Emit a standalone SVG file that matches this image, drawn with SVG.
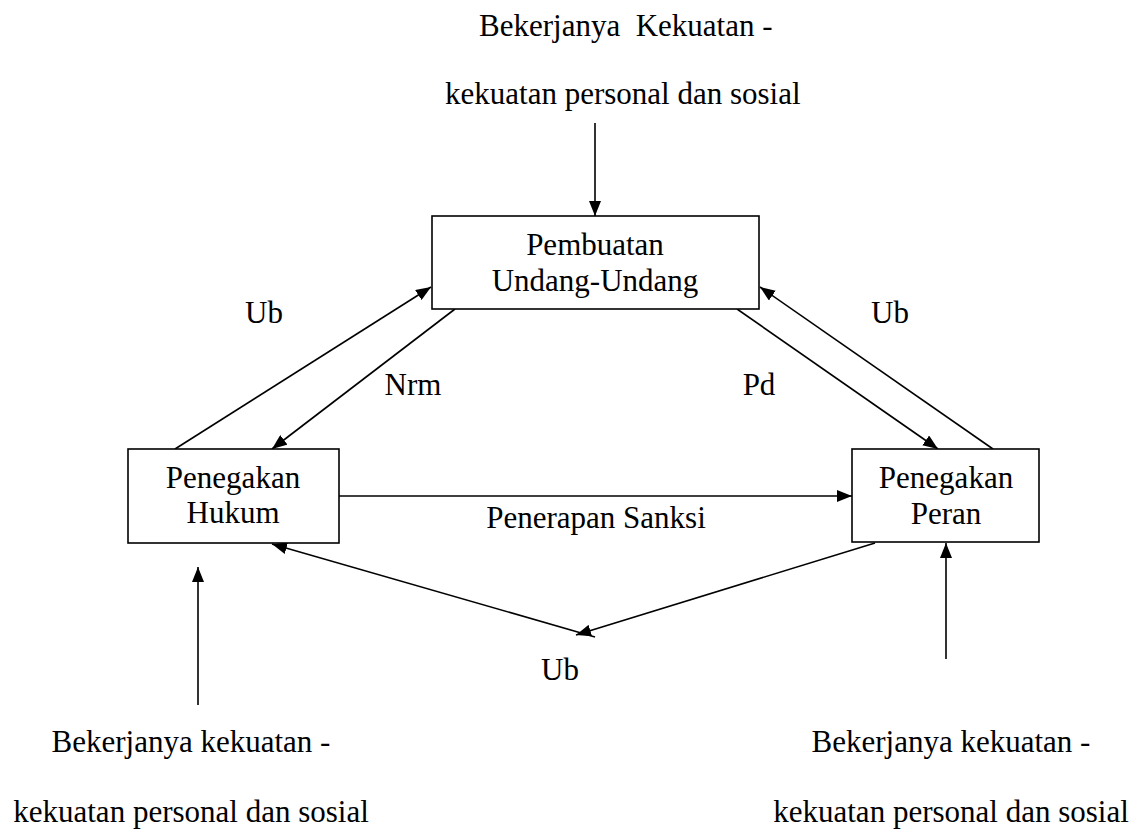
<svg xmlns="http://www.w3.org/2000/svg" width="1134" height="830" viewBox="0 0 1134 830">
<style>
text{font-family:"Liberation Serif","Times New Roman",serif;font-size:31px;fill:#000}
.c{text-anchor:middle}
.pre{white-space:pre}
.box{fill:#fff;stroke:#000;stroke-width:1.6}
.ln{stroke:#000;stroke-width:1.6;fill:none;marker-end:url(#ah)}
</style>
<defs>
<marker id="ah" markerUnits="userSpaceOnUse" markerWidth="16" markerHeight="12" refX="15" refY="6" orient="auto">
<path d="M0,0 L15,6 L0,12 z" fill="#000"/>
</marker>
</defs>
<rect width="1134" height="830" fill="#fff"/>
<g id="connectors">
<line class="ln" x1="595" y1="123" x2="595" y2="216"/>
<line class="ln" x1="175" y1="449" x2="431" y2="287"/>
<line class="ln" x1="455" y1="309" x2="272" y2="449"/>
<line class="ln" x1="737" y1="309" x2="938" y2="449"/>
<line class="ln" x1="993" y1="449" x2="760" y2="287"/>
<line class="ln" x1="339" y1="496" x2="852" y2="496"/>
<line class="ln" x1="875" y1="543" x2="576" y2="635"/>
<line class="ln" x1="595" y1="637" x2="272" y2="544"/>
<line class="ln" x1="198" y1="705" x2="198" y2="567"/>
<line class="ln" x1="946" y1="659" x2="946" y2="543"/>
</g>
<g id="labels">
<text class="pre" x="479" y="36" xml:space="preserve">Bekerjanya  Kekuatan -</text>
<text x="445" y="104">kekuatan personal dan sosial</text>
<text class="c" x="264" y="323">Ub</text>
<text class="c" x="413" y="395">Nrm</text>
<text class="c" x="759" y="395">Pd</text>
<text class="c" x="890" y="323">Ub</text>
<text class="c" x="596" y="528">Penerapan Sanksi</text>
<text class="c" x="560" y="680">Ub</text>
<text class="c" x="191" y="752">Bekerjanya kekuatan -</text>
<text class="c" x="191" y="822">kekuatan personal dan sosial</text>
<text class="c" x="951" y="752">Bekerjanya kekuatan -</text>
<text class="c" x="951" y="822">kekuatan personal dan sosial</text>
</g>
<g id="pembuatan">
<rect class="box" x="432" y="216" width="327" height="93"/>
<text class="c" x="595" y="255">Pembuatan</text>
<text class="c" x="595" y="291">Undang-Undang</text>
</g>
<g id="hukum">
<rect class="box" x="128" y="449" width="211" height="94"/>
<text class="c" x="233" y="488">Penegakan</text>
<text class="c" x="233" y="523">Hukum</text>
</g>
<g id="peran">
<rect class="box" x="852" y="449" width="187" height="93"/>
<text class="c" x="946" y="488">Penegakan</text>
<text class="c" x="946" y="524">Peran</text>
</g>
</svg>
